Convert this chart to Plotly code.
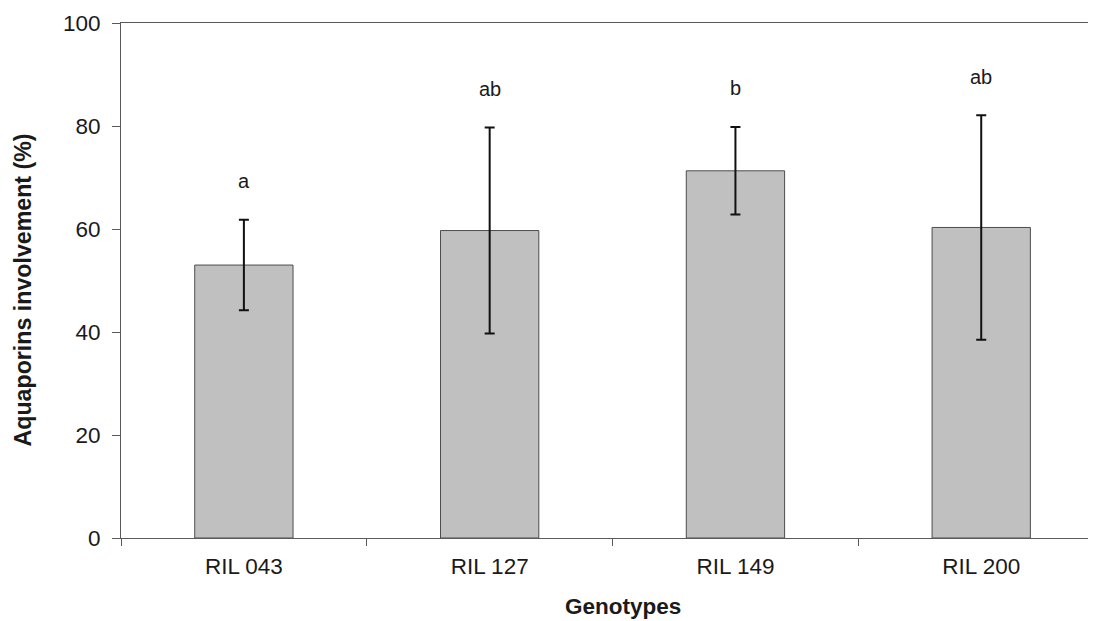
import plotly.graph_objects as go

genotypes = ["RIL 043", "RIL 127", "RIL 149", "RIL 200"]
means = [53.0, 59.7, 71.3, 60.3]
errors = [8.8, 20.0, 8.5, 21.8]
letters = ["a", "ab", "b", "ab"]
y_ticks = [0, 20, 40, 60, 80, 100]

FONT = "Liberation Sans, Arial, sans-serif"
TXT = "#1a1a1a"

fig = go.Figure()
fig.add_trace(go.Bar(
    x=genotypes, y=means, width=0.4,
    marker=dict(color="#c0c0c0", line=dict(color="#4d4d4d", width=1)),
    error_y=dict(type="data", array=errors, visible=True,
                 color="#111111", thickness=2, width=5),
    showlegend=False, hoverinfo="skip",
))

for g, m, e, l in zip(genotypes, means, errors, letters):
    fig.add_annotation(x=g, y=m + e + 7.5, text=l, showarrow=False,
                       xref="x", yref="y", yanchor="middle",
                       font=dict(family=FONT, size=20, color=TXT))

fig.add_annotation(text="<b>Aquaporins involvement (%)</b>", textangle=-90,
                   xref="paper", yref="paper", x=0, y=0.4816,
                   xanchor="center", yanchor="middle", xshift=-98.5,
                   showarrow=False, font=dict(family=FONT, size=23.2, color=TXT))
fig.add_annotation(text="<b>Genotypes</b>", xref="paper", yref="paper",
                   x=0.5149, y=0, xanchor="center", yanchor="middle",
                   yshift=-68.7, showarrow=False,
                   font=dict(family=FONT, size=22.5, color=TXT))

fig.update_layout(
    width=1088, height=613,
    margin=dict(l=113, r=0, t=15, b=83, pad=0),
    paper_bgcolor="white", plot_bgcolor="white",
    font=dict(family=FONT, size=22, color=TXT),
    bargap=0.6,
)
fig.update_xaxes(
    type="category", range=[-0.5, 3.467],
    showline=True, linecolor="#5a5a5a", linewidth=1, mirror=True,
    ticks="outside", tickson="boundaries", ticklen=7, tickcolor="#5a5a5a",
    ticklabelstandoff=8,
    showgrid=False, zeroline=False,
    tickfont=dict(family=FONT, size=22.5, color=TXT),
)
fig.update_yaxes(
    range=[0, 100], tickvals=y_ticks,
    showline=True, linecolor="#5a5a5a", linewidth=1, mirror=False,
    ticks="outside", ticklen=8, tickcolor="#5a5a5a",
    ticklabelstandoff=7,
    showgrid=False, zeroline=False,
    tickfont=dict(family=FONT, size=22.5, color=TXT),
)

fig.write_html("out.html")
